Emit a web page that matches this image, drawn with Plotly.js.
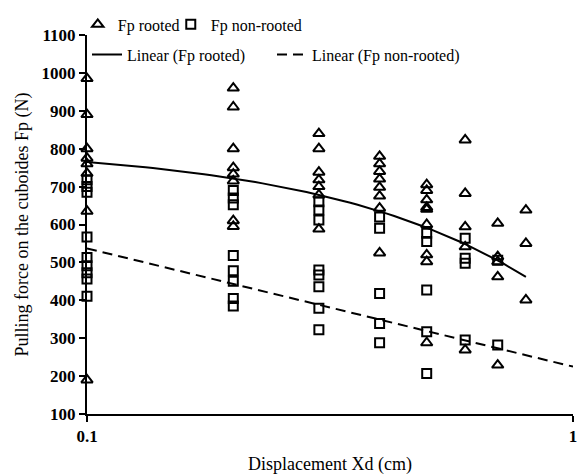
<!DOCTYPE html>
<html>
<head>
<meta charset="utf-8">
<script src="https://cdn.plot.ly/plotly-3.0.1.min.js"></script>
<style>html,body{margin:0;padding:0;background:#fff;}#chart{width:583px;height:475px;}</style>
</head>
<body>
<div id="chart"></div>
<script>
// Displacement values (cm) of each column of points
const displacements = [0.1, 0.2, 0.3, 0.4, 0.5, 0.6, 0.7, 0.8];
// Fp rooted (N), one list per displacement
const fpRooted = [
  [985, 890, 800, 775, 760, 735, 635, 190],
  [960, 910, 800, 750, 733, 715, 610, 595],
  [840, 800, 738, 718, 700, 678, 588],
  [780, 760, 740, 720, 698, 675, 643, 525],
  [705, 690, 665, 645, 640, 600, 520, 502, 288],
  [823, 682, 594, 541, 269],
  [603, 515, 502, 462, 229],
  [638, 550, 401]
];
// Fp non-rooted (N), one list per displacement
const fpNonRooted = [
  [718, 700, 685, 567, 513, 491, 473, 456, 411],
  [690, 670, 652, 518, 478, 450, 405, 385],
  [660, 638, 612, 480, 467, 436, 379, 322],
  [620, 590, 418, 339, 288],
  [577, 555, 427, 317, 207],
  [564, 511, 498, 295],
  [506, 282],
  []
];
// Trend lines
const trendRooted = {intercept: 808, slope: -433, xFrom: 0.1, xTo: 0.8};      // y = a + b*x
const trendNonRooted = {intercept: 225, slope: -135.5, xFrom: 0.1, xTo: 1.0};  // y = a + b*ln(x)

function flatten(groups) {
  const xs = [], ys = [];
  groups.forEach((vals, i) => vals.forEach(v => { xs.push(displacements[i]); ys.push(v); }));
  return {xs, ys};
}
function sampleLog(from, to, n, f) {
  const xs = [], ys = [];
  const l0 = Math.log10(from), l1 = Math.log10(to);
  for (let i = 0; i <= n; i++) {
    const x = Math.pow(10, l0 + (l1 - l0) * i / n);
    xs.push(x); ys.push(f(x));
  }
  return {xs, ys};
}

const r = flatten(fpRooted);
const nr = flatten(fpNonRooted);
const tr = sampleLog(trendRooted.xFrom, trendRooted.xTo, 60, x => trendRooted.intercept + trendRooted.slope * x);
const tn = sampleLog(trendNonRooted.xFrom, trendNonRooted.xTo, 60, x => trendNonRooted.intercept + trendNonRooted.slope * Math.log(x));

const serif = 'Liberation Serif';

const traces = [
  {x: r.xs, y: r.ys, type: 'scatter', mode: 'markers', name: 'Fp rooted', cliponaxis: false,
   marker: {symbol: 'triangle-up-open', size: 10, color: '#000', line: {width: 2, color: '#000'}},
   legend: 'legend', legendwidth: 48},
  {x: nr.xs, y: nr.ys, type: 'scatter', mode: 'markers', name: 'Fp non-rooted', cliponaxis: false,
   marker: {symbol: 'square-open', size: 9, color: '#000', line: {width: 2, color: '#000'}},
   legend: 'legend', legendwidth: 120},
  {x: tr.xs, y: tr.ys, type: 'scatter', mode: 'lines', name: 'Linear (Fp rooted)',
   line: {color: '#000', width: 2}, legend: 'legend2', legendwidth: 140},
  {x: tn.xs, y: tn.ys, type: 'scatter', mode: 'lines', name: 'Linear (Fp non-rooted)',
   line: {color: '#000', width: 2, dash: '10px,6px'}, legend: 'legend2', legendwidth: 180}
];

const layout = {
  width: 583, height: 475,
  margin: {l: 87, r: 10, t: 35, b: 61, autoexpand: false},
  paper_bgcolor: '#fff', plot_bgcolor: '#fff',
  font: {family: serif, color: '#000', size: 16},
  showlegend: true,
  legend: {orientation: 'h', x: -0.019, y: 1.028, xanchor: 'left', yanchor: 'middle',
           bgcolor: 'rgba(0,0,0,0)', font: {family: serif, size: 16, color: '#000'},
           itemwidth: 30, entrywidthmode: 'pixels'},
  legend2: {orientation: 'h', x: 0, y: 0.948, xanchor: 'left', yanchor: 'middle',
           bgcolor: 'rgba(0,0,0,0)', font: {family: serif, size: 16, color: '#000'},
           itemwidth: 30, entrywidthmode: 'pixels'},
  xaxis: {
    type: 'log', range: [-1, 0],
    tickvals: [0.1, 1], ticktext: ['0.1', '1'],
    ticks: 'outside', ticklen: 6, tickwidth: 2, tickcolor: '#000',
    showline: true, linecolor: '#000', linewidth: 2, mirror: false,
    showgrid: false, zeroline: false,
    tickfont: {family: serif, size: 17, color: '#000', weight: 'bold'},
    title: {text: 'Displacement Xd (cm)', font: {family: serif, size: 18, color: '#000'}, standoff: 14}
  },
  yaxis: {
    range: [100, 1100], dtick: 100, tick0: 100,
    ticks: 'outside', ticklen: 6, tickwidth: 2, tickcolor: '#000',
    showline: true, linecolor: '#000', linewidth: 2,
    showgrid: false, zeroline: false,
    tickfont: {family: serif, size: 17, color: '#000', weight: 'bold'},
    title: {text: 'Pulling force on the cuboides Fp (N)', font: {family: serif, size: 18, color: '#000'}, standoff: 8}
  }
};

Plotly.newPlot('chart', traces, layout, {staticPlot: true, displayModeBar: false});
</script>
</body>
</html>
